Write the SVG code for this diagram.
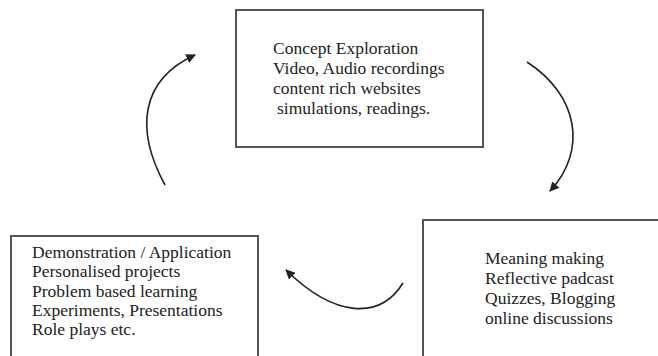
<svg xmlns="http://www.w3.org/2000/svg" width="658" height="356" viewBox="0 0 658 356">
  <style>
    .box { fill: #ffffff; stroke: #555555; stroke-width: 2; }
    .label { font-family: "Liberation Serif", "Times New Roman", serif; font-size: 17.5px; fill: #222222; }
    .flow { fill: none; stroke: #222222; stroke-width: 1.6; }
  </style>
  <defs>
    <marker id="head" viewBox="0 0 10 10" refX="9" refY="5" markerWidth="6" markerHeight="6" orient="auto" markerUnits="strokeWidth">
      <path d="M0,0 L10,5 L0,10 Z" fill="#222222"/>
    </marker>
  </defs>
  <rect width="658" height="356" fill="#ffffff"/>

  <!-- stage 1: exploring the concept -->
  <g id="concept-exploration">
    <rect class="box" x="236" y="10" width="247" height="137"/>
    <text class="label" x="273" y="54">Concept Exploration</text>
    <text class="label" x="273" y="74">Video, Audio recordings</text>
    <text class="label" x="273" y="94">content rich websites</text>
    <text class="label" x="277" y="114">simulations, readings.</text>
  </g>

  <!-- stage 2: making meaning -->
  <g id="meaning-making">
    <rect class="box" x="423" y="220" width="240" height="150"/>
    <text class="label" x="485" y="264">Meaning making</text>
    <text class="label" x="485" y="284">Reflective padcast</text>
    <text class="label" x="485" y="304">Quizzes, Blogging</text>
    <text class="label" x="485" y="324">online discussions</text>
  </g>

  <!-- stage 3: demonstrating and applying -->
  <g id="demonstration">
    <rect class="box" x="11" y="236" width="247" height="130"/>
    <text class="label" x="32" y="258">Demonstration / Application</text>
    <text class="label" x="32" y="277">Personalised projects</text>
    <text class="label" x="32" y="297">Problem based learning</text>
    <text class="label" x="32" y="316">Experiments, Presentations</text>
    <text class="label" x="32" y="335">Role plays etc.</text>
  </g>

  <!-- cycle arrows, clockwise -->
  <g id="connectors">
    <path class="flow" d="M527,62 C578,95 588,150 550,191" marker-end="url(#head)"/>
    <path class="flow" d="M403,283 C380,320 335,318 286,270" marker-end="url(#head)"/>
    <path class="flow" d="M165,185 C135,130 140,80 195,55" marker-end="url(#head)"/>
  </g>
</svg>
